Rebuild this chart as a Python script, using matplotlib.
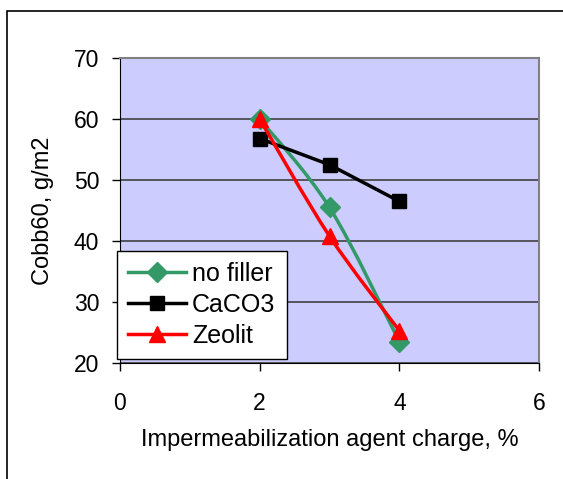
import numpy as np
import matplotlib.pyplot as plt
from matplotlib.path import Path
from matplotlib.patches import PathPatch, Rectangle
from matplotlib.lines import Line2D

plt.rcParams['font.family'] = ['Liberation Sans', 'DejaVu Sans']

x = [2, 3, 4]
no_filler = [60.0, 45.5, 23.5]
caco3 = [56.8, 52.5, 46.5]
zeolit = [60.0, 40.8, 25.3]

xticks = [0, 2, 4, 6]
yticks = [20, 30, 40, 50, 60, 70]


def smooth_path(xs, ys):
    # Excel-style smoothed line: cubic Bezier through the points
    pts = np.column_stack([xs, ys]).astype(float)
    n = len(pts)
    verts = [pts[0]]
    codes = [Path.MOVETO]
    for i in range(n - 1):
        p0 = pts[max(i - 1, 0)]
        p1 = pts[i]
        p2 = pts[i + 1]
        p3 = pts[min(i + 2, n - 1)]
        c1 = p1 + (p2 - p0) / 6
        c2 = p2 - (p3 - p1) / 6
        verts += [c1, c2, p2]
        codes += [Path.CURVE4] * 3
    return Path(verts, codes)


fig = plt.figure(figsize=(5.63, 4.79), dpi=100)
fig.patches.append(Rectangle((6.5 / 563, -0.1), 1.2, 1.1 - 11 / 479, transform=fig.transFigure,
                             fill=False, edgecolor='black', linewidth=1.2))
ax = fig.add_axes([120 / 563, 1 - 363 / 479, 419 / 563, 305 / 479])
ax.set_facecolor('#ccccff')

ax.add_patch(PathPatch(smooth_path(x, no_filler), fill=False, edgecolor='#339966', lw=2.5, zorder=3))
ax.plot(x, no_filler, ls='none', marker='D', color='#339966', ms=10, zorder=4)

ax.plot(x, caco3, color='black', lw=2.5, marker='s', ms=10, zorder=5)

ax.add_patch(PathPatch(smooth_path(x, zeolit), fill=False, edgecolor='red', lw=2.5, zorder=6))
ax.plot(x, zeolit, ls='none', marker='^', color='red', ms=12, zorder=7)

ax.set_xlim(0, 6)
ax.set_ylim(20, 70)
ax.set_xticks(xticks)
ax.set_yticks(yticks)
ax.yaxis.grid(True, color='#404040', lw=1.2)
ax.set_axisbelow(True)
ax.tick_params(labelsize=16.5, direction='out', length=6, width=1)
ax.tick_params(axis='y', pad=9)
ax.tick_params(axis='x', pad=15)
for s in ['top', 'right']:
    ax.spines[s].set_color('#808080')
    ax.spines[s].set_linewidth(1.5)
for s in ['left', 'bottom']:
    ax.spines[s].set_color('black')

ax.set_xlabel('Impermeabilization agent charge, %', fontsize=17, labelpad=10)
ax.set_ylabel('Cobb60, g/m2', fontsize=17, labelpad=14)

handles = [
    Line2D([], [], color='#339966', lw=2.5, marker='D', ms=10),
    Line2D([], [], color='black', lw=2.5, marker='s', ms=10),
    Line2D([], [], color='red', lw=2.5, marker='^', ms=12),
]
leg = ax.legend(handles, ['no filler', 'CaCO3', 'Zeolit'], loc='lower left',
                bbox_to_anchor=(-0.007, 0.013), borderaxespad=0, fontsize=18,
                fancybox=False, framealpha=1, edgecolor='black', borderpad=0.45,
                handlelength=2.3, handletextpad=0.25, labelspacing=0.28)
leg.get_frame().set_linewidth(1)

fig.savefig('out.png', dpi=100)
